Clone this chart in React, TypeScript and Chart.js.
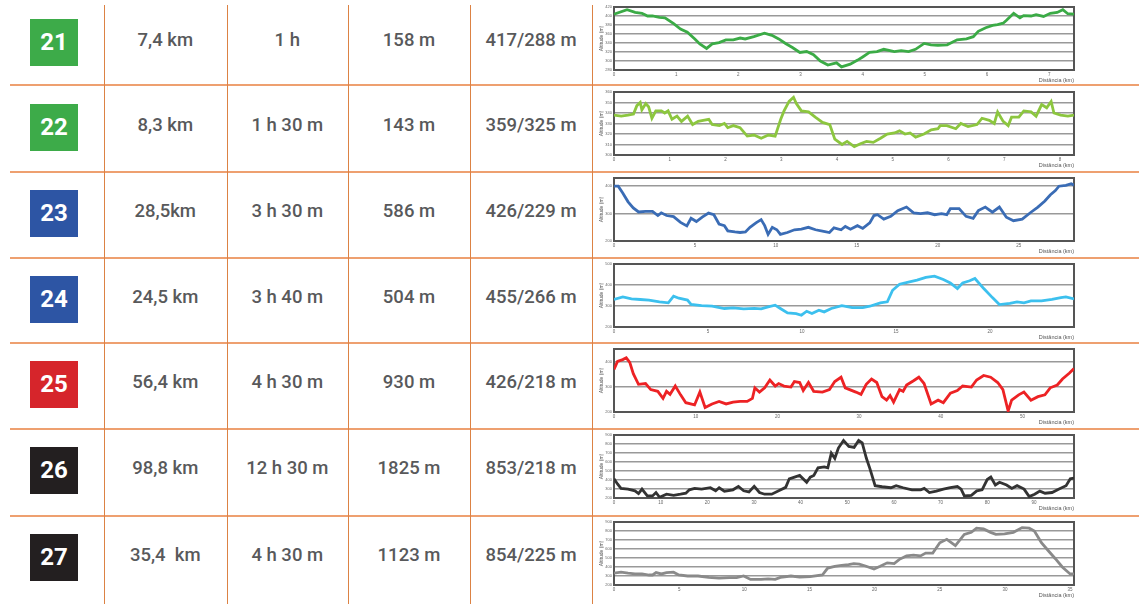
import React, { useEffect, useRef } from 'react';
import { Chart, registerables } from 'chart.js';
Chart.register(...registerables);

// ---- table data ----
const routeIds = ['21', '22', '23', '24', '25', '26', '27'];
const distances = ['7,4 km', '8,3 km', '28,5km', '24,5 km', '56,4 km', '98,8 km', '35,4  km'];
const durations = ['1 h', '1 h 30 m', '3 h 30 m', '3 h 40 m', '4 h 30 m', '12 h 30 m', '4 h 30 m'];
const climbs = ['158 m', '143 m', '586 m', '504 m', '930 m', '1825 m', '1123 m'];
const altitudes = ['417/288 m', '359/325 m', '426/229 m', '455/266 m', '426/218 m', '853/218 m', '854/225 m'];
const badgeColors = ['#3dab49', '#3dab49', '#2d55a4', '#2d55a4', '#d6252b', '#231f20', '#231f20'];
const lineColors = ['#3bab46', '#8cc63f', '#3a6cb5', '#3cc0ee', '#ed2224', '#333333', '#8a8a8a'];

// ---- axis data ----
const yMins = [280, 300, 200, 200, 200, 200, 200];
const yMaxs = [420, 360, 430, 500, 450, 900, 900];
const ySteps = [20, 10, 100, 100, 100, 100, 100];
const xMaxs = [7.4, 8.25, 28.42, 24.47, 56.3, 98.6, 35.3];
const xSteps = [1, 1, 5, 5, 10, 10, 5];

// ---- elevation profiles [km, altitude m] ----
const profile21: [number, number][] = [
  [0, 404], [0.21, 414], [0.34, 408], [0.45, 406], [0.54, 400], [0.62, 400], [0.73, 397], [0.82, 396], [0.96, 383], [1.07, 371],
  [1.18, 364], [1.3, 349], [1.38, 338], [1.49, 328], [1.58, 338], [1.69, 341], [1.8, 347], [1.92, 347], [2.03, 351], [2.11, 349],
  [2.25, 354], [2.42, 362], [2.54, 357], [2.65, 349], [2.76, 339], [2.87, 330], [2.99, 319], [3.1, 321], [3.21, 314], [3.32, 300],
  [3.44, 291], [3.58, 296], [3.66, 287], [3.8, 293], [3.92, 302], [4.0, 309], [4.11, 319], [4.23, 321], [4.34, 326], [4.51, 321],
  [4.62, 323], [4.74, 321], [4.85, 326], [4.99, 339], [5.1, 336], [5.21, 335], [5.36, 336], [5.52, 347], [5.67, 349], [5.78, 354],
  [5.86, 366], [5.98, 374], [6.09, 379], [6.17, 381], [6.26, 384], [6.31, 390], [6.43, 406], [6.53, 396], [6.59, 401], [6.71, 400],
  [6.79, 403], [6.91, 399], [7.02, 406], [7.13, 408], [7.22, 414], [7.3, 405], [7.4, 404],
];
const profile22: [number, number][] = [
  [0, 338], [0.13, 337], [0.25, 338], [0.35, 339], [0.41, 347], [0.47, 350], [0.5, 343], [0.57, 349], [0.62, 346], [0.68, 335],
  [0.75, 342], [0.85, 342], [0.91, 340], [0.97, 342], [1.04, 334], [1.13, 337], [1.21, 332], [1.32, 337], [1.41, 329], [1.51, 332],
  [1.6, 333], [1.7, 334], [1.76, 329], [1.89, 328], [1.98, 330], [2.04, 326], [2.14, 328], [2.26, 326], [2.39, 318], [2.51, 319],
  [2.64, 316], [2.77, 319], [2.89, 318], [2.99, 334], [3.05, 342], [3.14, 351], [3.22, 355], [3.27, 349], [3.36, 342], [3.49, 341],
  [3.61, 336], [3.74, 331], [3.87, 329], [3.96, 315], [4.09, 310], [4.18, 313], [4.31, 308], [4.43, 311], [4.53, 313], [4.65, 312],
  [4.78, 316], [4.9, 320], [5.03, 321], [5.12, 323], [5.22, 320], [5.31, 321], [5.41, 317], [5.56, 320], [5.69, 324], [5.81, 325],
  [5.85, 328], [5.97, 328], [6.13, 325], [6.22, 330], [6.35, 327], [6.51, 329], [6.6, 335], [6.73, 333], [6.82, 330], [6.88, 341],
  [6.98, 332], [7.07, 328], [7.13, 336], [7.26, 336], [7.35, 342], [7.48, 341], [7.57, 337], [7.67, 348], [7.76, 345], [7.84, 351],
  [7.89, 340], [8.01, 338], [8.14, 337], [8.25, 338],
];
const profile23: [number, number][] = [
  [0, 400], [0.26, 400], [0.54, 375], [0.87, 343], [1.19, 321], [1.52, 306], [1.95, 308], [2.38, 308], [2.71, 293], [2.92, 303],
  [3.25, 293], [3.68, 289], [4.11, 268], [4.5, 255], [4.76, 283], [5.09, 271], [5.45, 287], [5.84, 302], [6.17, 296], [6.49, 262],
  [6.82, 256], [7.03, 237], [7.47, 233], [7.79, 231], [8.12, 233], [8.4, 250], [8.77, 266], [9.09, 278], [9.31, 256], [9.52, 224],
  [9.78, 250], [10.06, 241], [10.28, 224], [10.71, 231], [11.15, 241], [11.58, 243], [12.01, 250], [12.45, 241], [12.88, 236], [13.31, 231],
  [13.59, 248], [14.03, 241], [14.29, 253], [14.61, 243], [15.04, 256], [15.37, 246], [15.8, 266], [16.06, 293], [16.28, 296], [16.67, 280],
  [17.1, 290], [17.53, 311], [18.07, 324], [18.51, 303], [18.94, 300], [19.37, 303], [19.81, 296], [20.24, 300], [20.56, 296], [20.78, 318],
  [21.32, 318], [21.75, 290], [22.19, 283], [22.51, 311], [22.94, 324], [23.38, 305], [23.81, 324], [24.24, 287], [24.68, 274], [25.22, 280],
  [25.76, 305], [26.19, 324], [26.62, 346], [26.95, 368], [27.27, 384], [27.49, 400], [27.92, 403], [28.25, 409], [28.42, 404],
];
const profile24: [number, number][] = [
  [0, 331], [0.47, 343], [0.93, 334], [1.4, 331], [1.86, 328], [2.42, 320], [2.89, 315], [3.17, 347], [3.45, 337], [3.91, 328],
  [4.1, 308], [4.66, 302], [5.22, 299], [5.87, 288], [6.34, 291], [6.9, 286], [7.46, 289], [7.83, 286], [8.2, 296], [8.57, 304],
  [8.85, 288], [9.23, 267], [9.69, 264], [9.97, 256], [10.25, 275], [10.53, 264], [10.9, 280], [11.18, 272], [11.56, 288], [12.12, 302],
  [12.67, 292], [13.23, 292], [13.61, 299], [14.17, 315], [14.54, 320], [14.82, 375], [15.19, 404], [15.66, 414], [16.12, 423], [16.59, 436],
  [17.05, 442], [17.52, 426], [17.89, 410], [18.27, 383], [18.55, 410], [18.92, 420], [19.2, 431], [19.67, 383], [20.13, 340], [20.5, 307],
  [21.06, 312], [21.44, 320], [21.81, 315], [22.18, 324], [22.74, 324], [23.3, 331], [23.77, 340], [24.04, 343], [24.47, 334],
];
const profile25: [number, number][] = [
  [0, 369], [0.43, 401], [1.07, 408], [1.5, 415], [1.93, 397], [2.36, 352], [3.0, 310], [3.86, 313], [4.5, 289], [5.36, 282],
  [6.0, 254], [6.43, 282], [6.86, 270], [7.5, 303], [8.15, 268], [8.79, 237], [9.86, 228], [10.51, 279], [11.15, 218], [12.0, 232],
  [12.86, 242], [13.72, 232], [14.58, 239], [15.44, 242], [16.3, 242], [16.94, 254], [17.24, 296], [17.8, 279], [18.44, 296], [19.08, 327],
  [19.73, 303], [20.15, 313], [20.8, 303], [21.66, 299], [22.08, 321], [22.73, 317], [23.16, 285], [23.8, 317], [24.44, 282], [25.51, 279],
  [26.37, 289], [27.02, 321], [27.79, 338], [28.3, 296], [29.6, 279], [30.23, 270], [30.87, 310], [31.52, 331], [32.16, 317], [32.8, 261],
  [33.36, 247], [33.79, 265], [34.22, 239], [34.95, 289], [35.38, 282], [35.81, 307], [36.66, 324], [37.31, 338], [37.95, 313], [38.81, 232],
  [39.67, 247], [40.31, 237], [41.17, 275], [42.02, 285], [42.67, 303], [43.74, 299], [44.38, 327], [45.24, 345], [46.1, 338], [46.96, 317],
  [47.6, 289], [48.24, 204], [48.67, 247], [49.53, 268], [50.17, 279], [51.03, 247], [51.89, 261], [52.74, 268], [53.39, 296], [54.25, 307],
  [54.89, 331], [55.75, 355], [56.3, 373],
];
const profile26: [number, number][] = [
  [0, 413], [0.75, 356], [1.5, 306], [3.0, 299], [4.5, 280], [5.26, 249], [6.0, 299], [7.14, 223], [8.26, 223], [9.0, 261],
  [9.77, 208], [11.27, 242], [12.77, 230], [14.27, 242], [15.4, 253], [16.15, 291], [17.28, 306], [18.78, 299], [20.66, 314], [21.79, 280],
  [22.54, 314], [23.67, 276], [25.5, 291], [26.67, 329], [27.8, 280], [28.93, 268], [30.05, 329], [31.18, 261], [32.3, 242], [33.8, 242],
  [35.3, 280], [36.8, 318], [37.57, 413], [38.7, 432], [39.8, 451], [41.3, 375], [42.07, 432], [42.83, 451], [43.73, 535], [45.08, 546],
  [45.83, 535], [46.58, 698], [47.33, 641], [48.1, 755], [49.2, 839], [50.34, 774], [51.47, 763], [52.44, 839], [53.2, 812], [54.1, 641],
  [54.85, 527], [55.97, 337], [57.47, 325], [59.35, 314], [60.48, 337], [61.98, 314], [63.86, 291], [65.74, 291], [66.5, 306], [67.6, 261],
  [69.1, 276], [70.6, 299], [72.1, 314], [73.6, 329], [74.4, 299], [75.1, 223], [76.6, 230], [77.76, 280], [78.9, 291], [80.0, 405],
  [80.77, 432], [81.74, 344], [82.64, 375], [84.15, 344], [85.27, 306], [86.4, 337], [87.9, 299], [89.0, 215], [90.16, 242], [91.28, 276],
  [92.4, 253], [93.9, 261], [95.4, 299], [96.9, 337], [97.8, 413], [98.6, 420],
];
const profile27: [number, number][] = [
  [0, 331], [0.54, 342], [1.08, 331], [1.61, 323], [2.15, 323], [2.69, 311], [2.96, 311], [3.23, 338], [3.63, 323], [4.03, 338],
  [4.57, 342], [4.97, 311], [5.65, 300], [6.45, 300], [7.26, 285], [8.06, 277], [8.87, 281], [9.41, 281], [9.95, 300], [10.48, 262],
  [11.29, 262], [11.83, 269], [12.37, 262], [12.77, 285], [13.58, 300], [14.25, 288], [15.05, 292], [15.99, 311], [16.4, 388], [16.94, 408],
  [17.47, 419], [18.0, 427], [18.4, 438], [18.82, 431], [19.35, 408], [19.95, 377], [20.43, 408], [20.97, 446], [21.5, 438], [21.9, 485],
  [22.45, 523], [22.98, 531], [23.52, 523], [23.92, 554], [24.46, 554], [25.0, 669], [25.54, 708], [26.2, 638], [26.88, 762], [27.42, 785],
  [27.82, 831], [28.36, 823], [28.9, 785], [29.3, 762], [29.97, 769], [30.65, 785], [31.32, 838], [31.86, 831], [32.26, 800], [32.8, 669],
  [33.33, 581], [33.87, 492], [34.4, 400], [35.0, 323], [35.3, 323],
];
const profiles = [profile21, profile22, profile23, profile24, profile25, profile26, profile27];

// ---- layout ----
const rowTops = [0, 85, 171, 257, 342, 428, 515];
const colLines = [104, 226.5, 348, 470, 592];
const rowLines = [84, 170.5, 256.5, 341.5, 427.5, 514.5];
const ORANGE_V = '#dc8244';
const ORANGE_H = '#eea070';
const TEXT = '#58595b';
const TICK_FONT = '"Liberation Sans", Arial, sans-serif';
const CELL_FONT = 'Roboto, "DejaVu Sans", sans-serif';

const framePlugin = {
  id: 'frame',
  beforeDatasetsDraw(chart: any) {
    const { ctx, chartArea: a } = chart;
    ctx.save();
    ctx.strokeStyle = '#555555';
    ctx.lineWidth = 2;
    ctx.strokeRect(a.left, a.top, a.right - a.left, a.bottom - a.top);
    ctx.restore();
  },
  afterDraw(chart: any) {
    const { ctx, chartArea: a } = chart;
    ctx.save();
    ctx.fillStyle = '#555555';
    ctx.font = `5px ${TICK_FONT}`;
    ctx.textAlign = 'center';
    ctx.textBaseline = 'middle';
    ctx.translate(a.left - 12.5, (a.top + a.bottom) / 2);
    ctx.rotate(-Math.PI / 2);
    ctx.fillText('Altitude (m)', 0, 0);
    ctx.restore();
    ctx.save();
    ctx.fillStyle = '#555555';
    ctx.font = `5.5px ${TICK_FONT}`;
    ctx.textAlign = 'right';
    ctx.textBaseline = 'alphabetic';
    ctx.fillText('Distância (km)', a.right, a.bottom + 11.5);
    ctx.restore();
  },
};

function Profile({ idx }: { idx: number }) {
  const ref = useRef<HTMLCanvasElement>(null);
  useEffect(() => {
    if (!ref.current) return;
    const pts = profiles[idx].map(([x, y]) => ({ x, y }));
    const chart = new Chart(ref.current, {
      type: 'line',
      data: {
        datasets: [
          {
            data: pts,
            borderColor: lineColors[idx],
            borderWidth: 2.8,
            pointRadius: 0,
            tension: 0,
            fill: false,
          },
        ],
      },
      options: {
        animation: false,
        responsive: false,
        maintainAspectRatio: false,
        events: [],
        layout: { padding: { top: 7, right: 65, bottom: 0, left: 0 } },
        plugins: { legend: { display: false }, tooltip: { enabled: false } },
        scales: {
          x: {
            type: 'linear',
            min: 0,
            max: xMaxs[idx],
            border: { display: false },
            grid: { display: false, drawTicks: false },
            ticks: {
              stepSize: xSteps[idx],
              includeBounds: false,
              autoSkip: false,
              maxRotation: 0,
              padding: 2,
              color: '#666666',
              font: { size: 4.5, family: TICK_FONT },
            },
            afterFit: (s: any) => {
              s.height = 16;
            },
          },
          y: {
            type: 'linear',
            min: yMins[idx],
            max: yMaxs[idx],
            border: { display: false },
            grid: { color: '#999999', lineWidth: 1.6, drawTicks: false },
            ticks: {
              stepSize: ySteps[idx],
              includeBounds: false,
              autoSkip: false,
              padding: 2,
              color: '#666666',
              font: { size: 4, family: TICK_FONT },
            },
            afterFit: (s: any) => {
              s.width = 22;
            },
          },
        },
      } as any,
      plugins: [framePlugin],
    });
    return () => chart.destroy();
  }, [idx]);
  return (
    <canvas
      ref={ref}
      width={547}
      height={86}
      style={{ position: 'absolute', left: 592, top: rowTops[idx], width: 547, height: 86 }}
    />
  );
}

const cellFont: React.CSSProperties = {
  position: 'absolute',
  height: 20,
  lineHeight: '20px',
  fontSize: 18.5,
  fontWeight: 500,
  fontFamily: CELL_FONT,
  color: TEXT,
  textAlign: 'center',
  whiteSpace: 'pre',
};

export default function App() {
  const columns = [distances, durations, climbs, altitudes];
  return (
    <div
      style={{
        position: 'fixed',
        left: 0,
        top: 0,
        width: 1139,
        height: 612,
        background: '#ffffff',
        overflow: 'hidden',
      }}
    >
      {rowLines.map((y, i) => (
        <div
          key={'h' + i}
          style={{ position: 'absolute', left: 10, top: y, width: 1129, height: 2, background: ORANGE_H }}
        />
      ))}
      {colLines.map((x, i) => (
        <div
          key={'v' + i}
          style={{ position: 'absolute', left: x, top: 5, width: 1.3, height: 599, background: ORANGE_V }}
        />
      ))}
      {routeIds.map((id, r) => (
        <React.Fragment key={id}>
          <div
            style={{
              position: 'absolute',
              left: 30,
              top: rowTops[r] + 19,
              width: 48,
              height: 47,
              background: badgeColors[r],
              color: '#ffffff',
              fontFamily: CELL_FONT,
              fontWeight: 700,
              fontSize: 24,
              lineHeight: '47px',
              textAlign: 'center',
            }}
          >
            {id}
          </div>
          {columns.map((col, c) => (
            <div
              key={c}
              style={{
                ...cellFont,
                left: colLines[c],
                width: colLines[c + 1] - colLines[c],
                top: rowTops[r] + 30,
              }}
            >
              {col[r]}
            </div>
          ))}
          <Profile idx={r} />
        </React.Fragment>
      ))}
    </div>
  );
}
